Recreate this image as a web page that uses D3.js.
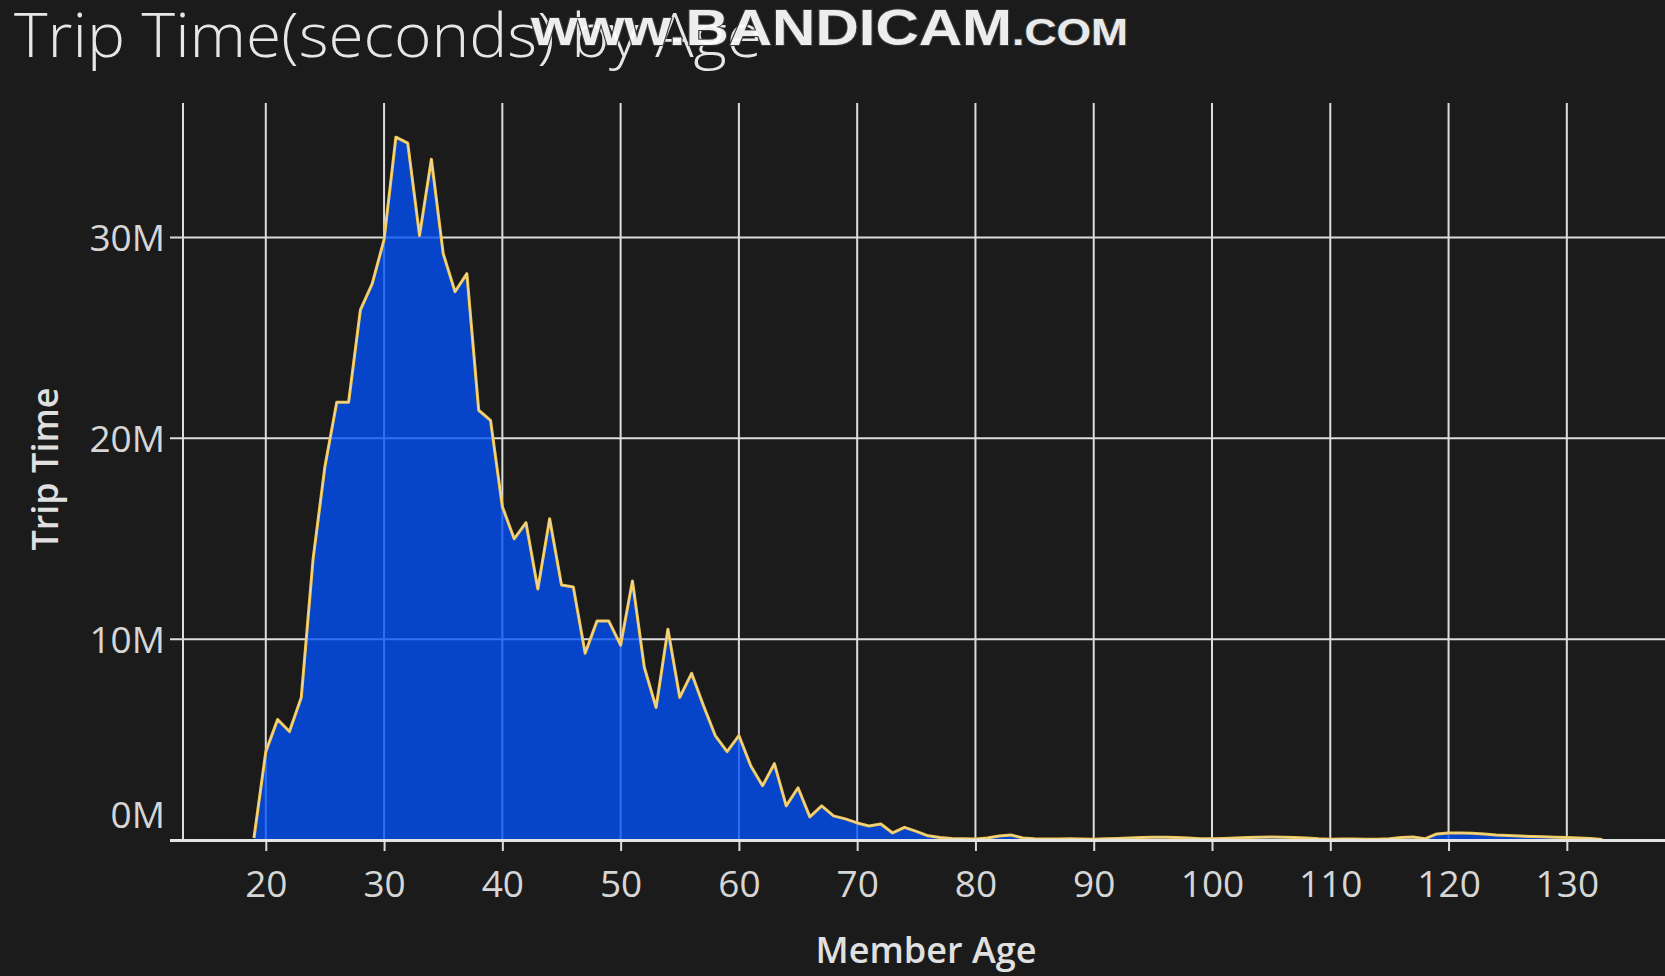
<!DOCTYPE html>
<html>
<head>
<meta charset="utf-8">
<script src="https://cdn.jsdelivr.net/npm/d3@7/dist/d3.min.js"></script>
<style>
  html, body { margin: 0; padding: 0; background: #1b1b1b; overflow: hidden; }
  svg { display: block; }
</style>
</head>
<body>
<svg class="area-chart"></svg>
<script>
const width = 1665;
const height = 976;

// Data: total trip time (millions of seconds) per member age
const ages = [19, 20, 21, 22, 23, 24, 25, 26, 27, 28, 29, 30, 31, 32, 33, 34, 35, 36, 37, 38,
  39, 40, 41, 42, 43, 44, 45, 46, 47, 48, 49, 50, 51, 52, 53, 54, 55, 56, 57, 58,
  59, 60, 61, 62, 63, 64, 65, 66, 67, 68, 69, 70, 71, 72, 73, 74, 75, 76, 77, 78,
  79, 80, 81, 82, 83, 84, 85, 86, 87, 88, 89, 90, 91, 92, 93, 94, 95, 96, 97, 98,
  99, 100, 101, 102, 103, 104, 105, 106, 107, 108, 109, 110, 111, 112, 113, 114, 115, 116, 117, 118,
  119, 120, 121, 122, 123, 124, 125, 126, 127, 128, 129, 130, 131, 132, 133];

const tripTime = [0.1, 4.4, 6.0, 5.4, 7.1, 14.0, 18.6, 21.8, 21.8, 26.4, 27.7, 29.9, 35.0, 34.7, 30.1, 33.9, 29.2, 27.3, 28.2, 21.4,
  20.9, 16.6, 15.0, 15.8, 12.5, 16.0, 12.7, 12.6, 9.3, 10.9, 10.9, 9.7, 12.9, 8.6, 6.6, 10.5, 7.1, 8.3, 6.7, 5.2,
  4.4, 5.2, 3.7, 2.7, 3.8, 1.7, 2.6, 1.15, 1.7, 1.2, 1.05, 0.85, 0.7, 0.8, 0.35, 0.63, 0.43, 0.21, 0.12, 0.08,
  0.06, 0.05, 0.1, 0.2, 0.25, 0.1, 0.06, 0.05, 0.05, 0.06, 0.05, 0.04, 0.06, 0.08, 0.1, 0.12, 0.14, 0.14, 0.12, 0.1,
  0.06, 0.06, 0.08, 0.1, 0.12, 0.14, 0.15, 0.14, 0.12, 0.1, 0.06, 0.04, 0.05, 0.05, 0.04, 0.04, 0.06, 0.12, 0.15, 0.06,
  0.3, 0.35, 0.35, 0.33, 0.3, 0.25, 0.22, 0.2, 0.18, 0.16, 0.14, 0.12, 0.1, 0.08, 0.03];

const xTicks = [20, 30, 40, 50, 60, 70, 80, 90, 100, 110, 120, 130];
const yTicks = [0, 10, 20, 30];

const data = ages.map((a, i) => ({ age: a, value: tripTime[i] }));

const plot = { left: 183, right: 1665, top: 103, bottom: 840 };

const svg = d3.select('.area-chart')
    .attr('width', width)
    .attr('height', height)
    .style('background', '#1b1b1b');

// Scales
const xScale = d3.scaleLinear()
    .domain([13, 138.3])
    .range([plot.left, plot.right]);

const yScale = d3.scaleLinear()
    .domain([0, 36.7])
    .range([plot.bottom, plot.top]);

const gridColor = '#dcdcdc';

// Title
svg.append('text')
    .attr('x', 14)
    .attr('y', 57)
    .attr('font-family', '"Open Sans", sans-serif')
    .attr('font-weight', 300)
    .attr('font-size', 61)
    .attr('fill', '#e6e6e6')
    .attr('textLength', 748)
    .attr('lengthAdjust', 'spacingAndGlyphs')
    .text('Trip Time(seconds) by Age');

// Horizontal gridlines
svg.append('g')
    .selectAll('line')
    .data(yTicks.filter(d => d > 0))
    .enter().append('line')
    .attr('x1', plot.left - 13)
    .attr('x2', plot.right)
    .attr('y1', d => yScale(d))
    .attr('y2', d => yScale(d))
    .attr('stroke', gridColor)
    .attr('stroke-width', 2);

// Vertical gridlines + y axis line
svg.append('g')
    .selectAll('line')
    .data(xTicks)
    .enter().append('line')
    .attr('x1', d => xScale(d))
    .attr('x2', d => xScale(d))
    .attr('y1', plot.top)
    .attr('y2', plot.bottom)
    .attr('stroke', gridColor)
    .attr('stroke-width', 2);

svg.append('line')
    .attr('x1', plot.left)
    .attr('x2', plot.left)
    .attr('y1', plot.top)
    .attr('y2', plot.bottom)
    .attr('stroke', gridColor)
    .attr('stroke-width', 2);

// Area + line
const area = d3.area()
    .x(d => xScale(d.age))
    .y0(yScale(0))
    .y1(d => yScale(d.value));

const line = d3.line()
    .x(d => xScale(d.age))
    .y(d => yScale(d.value));

svg.append('path')
    .datum(data)
    .attr('d', area)
    .attr('fill', 'rgb(0, 80, 250)')
    .attr('fill-opacity', 0.78);

svg.append('path')
    .datum(data)
    .attr('d', line)
    .attr('fill', 'none')
    .attr('stroke', '#f0c550')
    .attr('stroke-width', 3)
    .attr('stroke-linejoin', 'round');

svg.append('path')
    .datum(data)
    .attr('d', line)
    .attr('fill', 'none')
    .attr('stroke', '#e9eefa')
    .attr('stroke-opacity', 0.55)
    .attr('stroke-width', 0.9)
    .attr('stroke-linejoin', 'round');

// X axis (baseline, ticks, labels)
const xAxis = d3.axisBottom(xScale)
    .tickValues(xTicks)
    .tickSize(11)
    .tickSizeOuter(0);

const xAxisG = svg.append('g')
    .attr('id', 'x-axis')
    .attr('transform', `translate(0,${plot.bottom})`)
    .call(xAxis);

xAxisG.select('.domain').remove();
xAxisG.selectAll('line')
    .attr('stroke', gridColor)
    .attr('stroke-width', 2);
xAxisG.selectAll('text')
    .attr('y', 57)
    .attr('dy', 0)
    .attr('fill', '#d6d6d6')
    .attr('font-family', '"Open Sans", sans-serif')
    .attr('font-size', 37);

svg.append('line')
    .attr('x1', plot.left - 13)
    .attr('x2', plot.right)
    .attr('y1', plot.bottom + 0.5)
    .attr('y2', plot.bottom + 0.5)
    .attr('stroke', '#e4e4e4')
    .attr('stroke-width', 3);

// Y axis labels
const yAxis = d3.axisLeft(yScale)
    .tickValues(yTicks)
    .tickSize(0)
    .tickFormat(d => `${d}M`);

const yAxisG = svg.append('g')
    .attr('id', 'y-axis')
    .attr('transform', `translate(${plot.left},0)`)
    .call(yAxis);

yAxisG.select('.domain').remove();
yAxisG.selectAll('text')
    .attr('x', -18)
    .attr('dy', d => d === 0 ? '-0.35em' : '0.35em')
    .attr('fill', '#d6d6d6')
    .attr('font-family', '"Open Sans", sans-serif')
    .attr('font-size', 37);

// Axis titles
svg.append('text')
    .attr('x', 926)
    .attr('y', 963)
    .attr('text-anchor', 'middle')
    .attr('font-family', '"Open Sans", sans-serif')
    .attr('font-weight', 600)
    .attr('font-size', 36)
    .attr('fill', '#e0e0e0')
    .text('Member Age');

svg.append('text')
    .attr('transform', 'translate(58,469) rotate(-90)')
    .attr('text-anchor', 'middle')
    .attr('font-family', '"Open Sans", sans-serif')
    .attr('font-weight', 600)
    .attr('font-size', 36)
    .attr('fill', '#e0e0e0')
    .text('Trip Time');

// Screen recorder watermark
const wm = svg.append('text')
    .attr('x', 531)
    .attr('y', 45)
    .attr('font-family', '"Liberation Sans", Arial, sans-serif')
    .attr('font-weight', 'bold')
    .attr('fill', '#ffffff')
    .attr('fill-opacity', 0.92)
    .attr('stroke', '#3a3a3a')
    .attr('stroke-width', 2)
    .attr('paint-order', 'stroke')
    .attr('textLength', 597)
    .attr('lengthAdjust', 'spacingAndGlyphs');

wm.append('tspan').attr('font-size', 50).text('www.');
wm.append('tspan').attr('font-size', 50).text('BANDICAM');
wm.append('tspan').attr('font-size', 37).text('.COM');
</script>
</body>
</html>
